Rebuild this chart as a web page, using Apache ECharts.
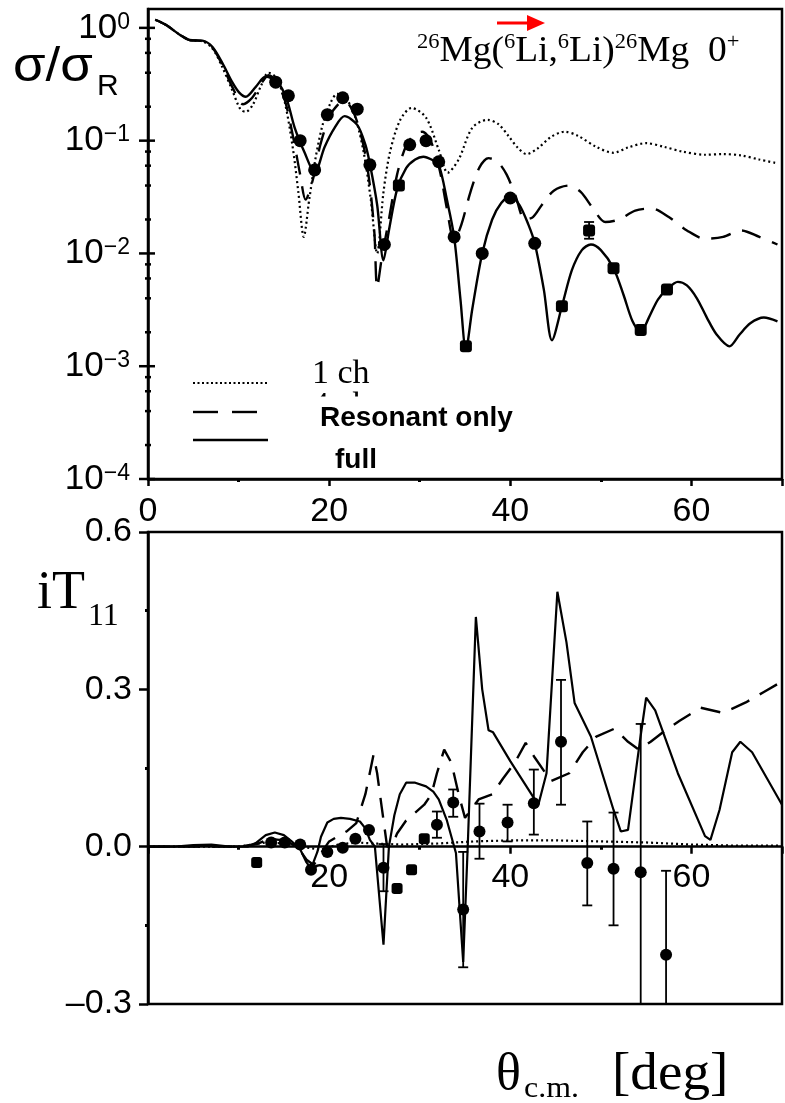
<!DOCTYPE html>
<html>
<head>
<meta charset="utf-8">
<script src="https://cdn.jsdelivr.net/npm/echarts@6/dist/echarts.min.js"></script>
<style>
html,body{margin:0;padding:0;background:#fff;}
#chart{width:785px;height:1103px;}
</style>
</head>
<body>
<div id="chart"></div>
<script>
// ---- upper panel: sigma / sigma_Rutherford versus theta_cm (deg) ----
const oneCh = [[0.8,1.18],[2.0,1.06],[3.5,0.87],[4.6,0.78],[6.0,0.76],[7.1,0.66],[8.2,0.45],[9.3,0.28],[10.2,0.19],[10.8,0.18],[11.6,0.21],[12.5,0.31],[13.3,0.40],[14.2,0.36],[15.1,0.22],[16.0,0.085],[16.6,0.035],[17.2,0.014],[17.8,0.03],[18.5,0.07],[19.3,0.14],[20.2,0.22],[20.9,0.26],[21.8,0.24],[22.8,0.17],[23.8,0.08],[24.6,0.03],[25.3,0.01],[26.0,0.035],[26.7,0.078],[27.8,0.15],[29.1,0.195],[30.7,0.16],[32.1,0.083],[33.1,0.052],[34.3,0.068],[35.8,0.13],[37.5,0.153],[38.7,0.14],[39.8,0.11],[40.8,0.087],[41.8,0.076],[43.0,0.085],[44.5,0.108],[46.0,0.12],[47.5,0.11],[49.5,0.088],[51.4,0.078],[53.0,0.087],[55.0,0.095],[57.0,0.088],[59.0,0.08],[61.5,0.075],[63.5,0.076],[65.5,0.074],[67.5,0.068],[69.5,0.063]];

const fourCh = [[0.8,1.18],[2.0,1.06],[3.5,0.87],[4.6,0.78],[6.0,0.765],[7.1,0.67],[8.2,0.47],[9.3,0.3],[10.5,0.21],[11.5,0.24],[12.5,0.32],[13.3,0.38],[14.2,0.33],[15.1,0.23],[16.0,0.11],[16.8,0.05],[17.4,0.03],[18.2,0.045],[19.0,0.09],[20.0,0.16],[21.0,0.21],[21.8,0.22],[22.8,0.17],[23.8,0.09],[24.5,0.04],[25.0,0.015],[25.3,0.005],[25.8,0.009],[26.6,0.02],[27.5,0.05],[28.5,0.09],[29.5,0.115],[30.3,0.12],[31.2,0.1],[32.2,0.055],[33.0,0.025],[33.8,0.013],[34.6,0.018],[35.6,0.035],[36.6,0.058],[37.6,0.07],[38.6,0.065],[39.6,0.05],[40.6,0.032],[41.6,0.02],[42.5,0.021],[43.5,0.027],[44.8,0.036],[46.5,0.04],[47.8,0.035],[49.0,0.026],[50.5,0.019],[52.0,0.02],[53.8,0.024],[55.6,0.025],[57.5,0.021],[59.5,0.016],[61.5,0.0135],[63.5,0.014],[65.5,0.016],[67.5,0.014],[69.5,0.012]];

const fullCh = [[0.8,1.18],[2.0,1.06],[3.5,0.87],[4.6,0.78],[6.0,0.77],[7.1,0.68],[8.2,0.49],[9.3,0.33],[10.1,0.265],[10.8,0.245],[11.9,0.30],[13.0,0.37],[14.3,0.33],[15.3,0.235],[16.2,0.13],[17.3,0.078],[18.4,0.052],[19.5,0.088],[20.6,0.13],[21.7,0.165],[23.1,0.138],[24.0,0.092],[24.5,0.062],[25.3,0.027],[26.0,0.0087],[26.6,0.016],[27.5,0.037],[28.5,0.057],[29.5,0.068],[30.4,0.072],[31.3,0.068],[32.1,0.061],[33.0,0.03],[33.8,0.014],[34.5,0.0039],[35.1,0.0014],[35.8,0.0032],[36.9,0.010],[38.0,0.02],[39.0,0.028],[40.0,0.032],[41.0,0.027],[42.0,0.018],[42.7,0.0123],[43.7,0.0048],[44.6,0.0017],[45.7,0.0034],[46.8,0.0071],[47.9,0.0107],[48.9,0.012],[50.0,0.0107],[51.4,0.0074],[52.5,0.0043],[53.5,0.0025],[54.4,0.002],[55.3,0.0027],[56.3,0.0039],[57.3,0.0048],[58.5,0.0056],[59.5,0.0052],[60.6,0.004],[61.7,0.0027],[62.8,0.0019],[64.2,0.0015],[65.3,0.0019],[66.5,0.0024],[68.0,0.0027],[69.5,0.0025]];

const xsCircles = [[14.1,0.33],[15.5,0.25],[16.8,0.10],[18.4,0.055],[19.8,0.17],[21.5,0.24],[23.1,0.19],[24.5,0.061],[26.1,0.012],[28.9,0.092],[30.7,0.10],[32.1,0.065],[33.8,0.014],[36.9,0.010],[40.0,0.031],[42.7,0.0123]];
const xsSquares = [[27.7,0.04],[35.1,0.0015],[45.7,0.0034],[48.7,0.016],[51.4,0.0074],[54.4,0.0021],[57.3,0.0048]];
const xsErrors = [[48.7,0.0135,0.019]];

// decade and minor tick values of the log axis (value, 1 = decade)
const logTicks = [[1,1],[0.1,1],[0.01,1],[0.001,1],[0.0001,1],
  [0.8,0],[0.6,0],[0.4,0],[0.2,0],[0.08,0],[0.06,0],[0.04,0],[0.02,0],
  [0.008,0],[0.006,0],[0.004,0],[0.002,0],[0.0008,0],[0.0006,0],[0.0004,0],[0.0002,0]];

// ---- lower panel: vector analysing power iT11 ----
const oneIT = [[0,0],[10,0.0],[13,0.008],[15,0.006],[17,0.0],[19,-0.006],[21,0.004],[23,0.008],[25,0.006],[28,0.004],[32,0.006],[36,0.01],[40,0.012],[45,0.012],[50,0.01],[55,0.008],[60,0.004],[65,0.002],[70,0.002]];

const resIT = [[0,0],[10,0],[12,0.005],[13.5,0.015],[15,0.012],[16.5,0.0],[17.5,-0.025],[18.3,-0.035],[19.2,-0.01],[20,0.01],[21,0.02],[22,0.03],[23,0.045],[24,0.1],[24.9,0.175],[25.3,0.14],[25.8,0.076],[26.4,0.0],[26.9,0.0],[27.5,0.025],[28.5,0.05],[29.5,0.065],[30.5,0.08],[31.3,0.1],[31.9,0.14],[32.7,0.185],[33.5,0.16],[34.3,0.1],[35.0,0.055],[36.5,0.09],[38.0,0.1],[39.2,0.13],[40.5,0.16],[41.7,0.198],[42.7,0.17],[44.5,0.125],[46.5,0.14],[48.0,0.18],[49.5,0.21],[51.5,0.225],[53.0,0.2],[54.2,0.185],[55.5,0.2],[57.0,0.22],[58.7,0.24],[61.0,0.265],[63.5,0.255],[66.0,0.275],[68.0,0.295],[70.0,0.315]];

const fullIT = [[0,0],[3,0.0],[5,0.003],[7,0.004],[9,0.0],[11,0.0],[12,0.008],[13,0.022],[14,0.027],[15,0.022],[16,0.008],[16.8,-0.005],[17.5,-0.03],[18,-0.042],[18.7,-0.01],[19.1,0.019],[19.8,0.046],[20.5,0.053],[21.3,0.055],[22.3,0.053],[23.4,0.048],[24.0,0.035],[24.5,0.013],[25.05,0],[26.0,-0.187],[26.6,0],[27.2,0.06],[27.8,0.1],[28.5,0.122],[29.5,0.122],[30.7,0.115],[31.5,0.105],[32.1,0.09],[33,0.05],[34,-0.012],[34.8,-0.22],[35.3,0.0],[36.2,0.438],[36.9,0.3],[37.6,0.222],[38.1,0.218],[40,0.163],[42.7,0.09],[43.1,0.08],[44.0,0.14],[45.2,0.486],[46.2,0.39],[47.1,0.274],[48.9,0.21],[51.4,0.07],[52.2,0.029],[53,0.032],[54.3,0.2],[55,0.284],[56,0.26],[58.5,0.14],[61.5,0.02],[62.1,0.013],[63.1,0.07],[64.5,0.18],[65.4,0.2],[66.7,0.18],[70,0.08]];

const itCircles = [[13.6,0.008],[15.1,0.008],[16.8,0.004],[18.0,-0.044],[19.8,-0.01],[21.5,-0.002],[22.9,0.015],[24.4,0.032],[26.0,-0.04],[31.9,0.042],[33.7,0.084],[34.8,-0.12],[36.6,0.029],[39.7,0.046],[42.6,0.083],[45.6,0.2],[48.5,-0.031],[51.4,-0.042],[54.4,-0.049],[57.2,-0.206]];
const itSquares = [[12.0,-0.03],[27.5,-0.08],[29.1,-0.044],[30.5,0.015]];
// [theta, lower, upper]
const itErrors = [[26.0,-0.085,0.005],[31.9,0.017,0.067],[33.7,0.057,0.109],[34.8,-0.23,-0.01],[36.6,-0.023,0.082],[39.7,0.01,0.08],[42.6,0.023,0.147],[45.6,0.08,0.318],[48.5,-0.112,0.048],[51.4,-0.15,0.065],[54.4,-0.4,0.234],[57.2,-0.4,-0.046]];

const xTicks = [0, 20, 40, 60];
const itRange = [-0.3, 0.6];

const SANS = 'Liberation Sans, Arial, sans-serif';
const SERIF = 'Liberation Serif, Times New Roman, serif';
const INK = '#000';

// lower panel geometry; its theta axis runs along iT11 = 0
const lowerHeight = 472;
const zeroShift = -lowerHeight * (0 - itRange[0]) / (itRange[1] - itRange[0]);

function powLabel(v) {
  const e = Math.log10(v);
  const r = Math.round(e);
  if (Math.abs(e - r) > 1e-6) return '';
  return '{b|10}{s|' + (r < 0 ? '\u2212' + (-r) : r) + '}';
}

function errorBar(params, api) {
  const x = api.value(0);
  const top = api.coord([x, api.value(2)]);
  const bot = api.coord([x, api.value(1)]);
  const hw = 5;
  const st = {stroke: INK, lineWidth: 1.8};
  return {type: 'group', children: [
    {type: 'line', shape: {x1: top[0], y1: top[1], x2: bot[0], y2: bot[1]}, style: st},
    {type: 'line', shape: {x1: top[0] - hw, y1: top[1], x2: top[0] + hw, y2: top[1]}, style: st},
    {type: 'line', shape: {x1: bot[0] - hw, y1: bot[1], x2: bot[0] + hw, y2: bot[1]}, style: st}
  ]};
}

function logTick(params, api) {
  const p = api.coord([0, api.value(0)]);
  const major = api.value(1) === 1;
  return {type: 'line',
    shape: {x1: p[0] - (major ? 9 : 3), y1: p[1], x2: p[0] + (major ? 7 : 3), y2: p[1]},
    style: {stroke: INK, lineWidth: 2.5}};
}

function lineSeries(data, grid, dash, width, smooth) {
  return {type: 'line', xAxisIndex: grid, yAxisIndex: grid, data: data,
    showSymbol: false, symbol: 'none', smooth: smooth, z: 3,
    lineStyle: {color: INK, width: width, type: dash}};
}

function dots(data, grid, shape, size) {
  return {type: 'scatter', xAxisIndex: grid, yAxisIndex: grid, data: data, symbol: shape,
    symbolSize: size, itemStyle: {color: INK, opacity: 1}, z: 5};
}

function txt(x, y, s, font, extra, sx) {
  return Object.assign({type: 'text', x: x, y: y, z: 50, scaleX: sx || 1,
    style: Object.assign({text: s, font: font, fill: INK, verticalAlign: 'middle', align: 'left'}, extra || {})});
}

const chart = echarts.init(document.getElementById('chart'), null, {renderer: 'canvas'});

chart.setOption({
  animation: false,
  backgroundColor: '#fff',
  grid: [
    {left: 148, top: 9, width: 643, height: 470, show: true, borderColor: INK, borderWidth: 2.5},
    {left: 148, top: 532, width: 643, height: lowerHeight, show: true, borderColor: INK, borderWidth: 2.5}
  ],
  xAxis: [
    {type: 'value', gridIndex: 0, min: 0, max: 70, interval: 20,
      axisLine: {show: true, onZero: false, lineStyle: {color: INK, width: 2.5}},
      axisTick: {show: true, length: 7, lineStyle: {color: INK, width: 2.5}},
      minorTick: {show: true, splitNumber: 2, length: 3, lineStyle: {color: INK, width: 3}},
      splitLine: {show: false},
      axisLabel: {margin: 16, fontSize: 34, fontFamily: SANS, color: INK,
        formatter: v => xTicks.indexOf(v) >= 0 ? String(v) : ''}},
    {type: 'value', gridIndex: 1, min: 0, max: 70, interval: 20, offset: zeroShift,
      axisLine: {show: true, onZero: false, lineStyle: {color: INK, width: 2.5}},
      axisTick: {show: true, length: 7, lineStyle: {color: INK, width: 2.5}},
      minorTick: {show: true, splitNumber: 2, length: 3, lineStyle: {color: INK, width: 3}},
      splitLine: {show: false},
      axisLabel: {margin: 14, fontSize: 34, fontFamily: SANS, color: INK,
        formatter: v => (v > 0 && xTicks.indexOf(v) >= 0) ? String(v) : ''}}
  ],
  yAxis: [
    {type: 'log', gridIndex: 0, logBase: 10, min: 1e-4, max: 1.47,
      axisLine: {show: true, onZero: false, lineStyle: {color: INK, width: 2.5}},
      axisTick: {show: false}, splitLine: {show: false},
      axisLabel: {margin: 18, formatter: powLabel,
        rich: {
          b: {fontSize: 35, fontFamily: SANS, color: INK, lineHeight: 34},
          s: {fontSize: 23, fontFamily: SANS, color: INK, verticalAlign: 'top', lineHeight: 20}
        }}},
    {type: 'value', gridIndex: 1, min: itRange[0], max: itRange[1], interval: 0.3,
      axisLine: {show: true, onZero: false, lineStyle: {color: INK, width: 2.5}},
      axisTick: {show: true, length: 9, lineStyle: {color: INK, width: 2.5}},
      minorTick: {show: true, splitNumber: 2, length: 3, lineStyle: {color: INK, width: 3}},
      splitLine: {show: false},
      axisLabel: {margin: 16, fontSize: 34, fontFamily: SANS, color: INK,
        formatter: v => (v < -1e-9 ? '\u2013' : '') + Math.abs(v).toFixed(1)}}
  ],
  series: [
    lineSeries(oneCh, 0, [2, 3], 2.2, 0.3),
    lineSeries(fourCh, 0, [20, 12], 2.4, 0.3),
    lineSeries(fullCh, 0, 'solid', 2.4, 0.3),
    {type: 'custom', xAxisIndex: 0, yAxisIndex: 0, data: xsErrors, renderItem: errorBar,
      encode: {x: 0, y: [1, 2]}, z: 4},
    dots(xsCircles, 0, 'circle', 13),
    dots(xsSquares, 0, 'roundRect', 12),
    {type: 'custom', xAxisIndex: 0, yAxisIndex: 0, data: logTicks, renderItem: logTick,
      encode: {y: 0}, z: 6, clip: false},

    lineSeries(oneIT, 1, [2, 3], 2.2, false),
    lineSeries(resIT, 1, [20, 12], 2.4, false),
    lineSeries(fullIT, 1, 'solid', 2.2, false),
    {type: 'custom', xAxisIndex: 1, yAxisIndex: 1, data: itErrors, renderItem: errorBar,
      encode: {x: 0, y: [1, 2]}, z: 4, clip: true},
    dots(itCircles, 1, 'circle', 12),
    dots(itSquares, 1, 'roundRect', 11)
  ],
  graphic: [
    // axis titles
    txt(13, 68, '\u03c3/\u03c3', '48px ' + SANS, null, 1.1),
    txt(97, 87, 'R', '30px ' + SANS),
    txt(37, 594, 'iT', '54px ' + SERIF),
    txt(88, 617, '11', '32px ' + SERIF),
    txt(496, 1075, '\u03b8', '52px ' + SERIF),
    txt(524, 1089, 'c.m.', '29px ' + SERIF, null, 1.1),
    txt(612, 1075, '[deg]', '53px ' + SERIF, null, 1.04),
    // reaction label
    {type: 'text', x: 417, y: 52, z: 50, scaleX: 1.07, style: {
      text: '{s|26}{m|Mg(}{s|6}{m|Li,}{s|6}{m|Li)}{s|26}{m|Mg  0}{s|+}',
      verticalAlign: 'middle', align: 'left',
      rich: {
        m: {fontSize: 35, fontFamily: SERIF, fill: INK, lineHeight: 40},
        s: {fontSize: 21, fontFamily: SERIF, fill: INK, verticalAlign: 'top', lineHeight: 20}
      }}},
    // red arrow
    {type: 'line', z: 50, shape: {x1: 497, y1: 23, x2: 530, y2: 23}, style: {stroke: '#ff0000', lineWidth: 3}},
    {type: 'polygon', z: 50, shape: {points: [[527, 15], [545, 23], [527, 31]]}, style: {fill: '#ff0000'}},
    // legend
    {type: 'line', z: 50, shape: {x1: 193, y1: 383, x2: 268, y2: 383}, style: {stroke: INK, lineWidth: 2, lineDash: [2, 2.5]}},
    {type: 'line', z: 50, shape: {x1: 193, y1: 412, x2: 218, y2: 412}, style: {stroke: INK, lineWidth: 2.4}},
    {type: 'line', z: 50, shape: {x1: 232, y1: 412, x2: 257, y2: 412}, style: {stroke: INK, lineWidth: 2.4}},
    {type: 'line', z: 50, shape: {x1: 193, y1: 440, x2: 268, y2: 440}, style: {stroke: INK, lineWidth: 2.4}},
    txt(312, 374, '1 ch', '34px ' + SERIF),
    txt(312, 406, '4 ch', '34px ' + SERIF),
    txt(303, 418, 'Resonant only', 'bold 28px ' + SANS, {backgroundColor: '#fff', padding: [9, 6, 6, 17]}),
    txt(335, 460, 'full', 'bold 28px ' + SANS)
  ]
});
</script>
</body>
</html>
